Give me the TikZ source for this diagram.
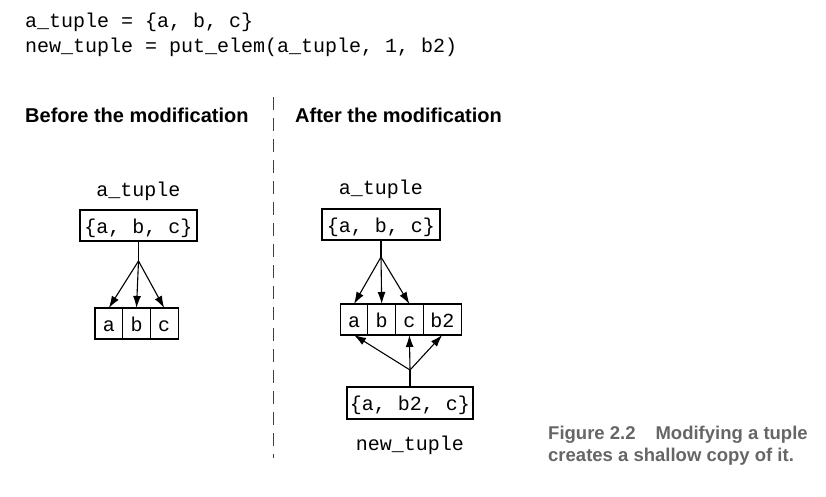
\documentclass[tikz,border=0pt]{standalone}
\usepackage{fontspec}
\setmainfont{Liberation Sans}
\setsansfont{Liberation Sans}
\setmonofont{Liberation Mono}
\usetikzlibrary{arrows.meta}
\begin{document}
\begin{tikzpicture}[x=1pt,y=1pt,
  code/.style={font=\ttfamily\fontsize{20}{25}\selectfont, inner sep=0pt, anchor=base west},
  lbl/.style={font=\ttfamily\fontsize{20}{25}\selectfont, inner sep=0pt, anchor=base},
  head/.style={font=\sffamily\bfseries\fontsize{20}{24}\selectfont, inner sep=0pt, anchor=base west},
  tbox/.style={draw, line width=1.1pt, font=\ttfamily\fontsize{20}{25}\selectfont,
    inner sep=0pt, outer sep=0pt, minimum height=31pt, text height=17pt, text depth=2pt},
  cell/.style={tbox, minimum width=27.7pt},
  link/.style={line width=1.1pt},
  arr/.style={line width=1.1pt, -{Latex[length=12pt,width=8pt]}},
  divider/.style={line width=1pt, black!75, dash pattern=on 13pt off 8pt},
  captext/.style={font=\sffamily\bfseries\fontsize{18.5}{21}\selectfont, text=black!60, inner sep=0pt, anchor=base west}
]
\useasboundingbox (0,0) rectangle (826,-496);

% code lines
\node[code] (code1) at (25,-27) {a\_tuple = \{a, b, c\}};
\node[code] (code2) at (25,-52) {new\_tuple = put\_elem(a\_tuple, 1, b2)};

% headings
\node[head] (hbefore) at (25,-122) {Before the modification};
\node[head] (hafter) at (295,-122) {After the modification};

% divider
\coordinate (dtop) at (273,-97);
\coordinate (dbot) at (273,-458);
\draw[divider] (dtop) -- (dbot);

% ---- before ----
\node[lbl] (lname) at (138.5,-196) {a\_tuple};
\node[tbox, minimum width=117pt] (lbox) at (138.5,-225.5) {\{a, b, c\}};
\node[cell] (La) at (108.8,-323.5) {a};
\node[cell, anchor=west] (Lb) at (La.east) {b};
\node[cell, anchor=west] (Lc) at (Lb.east) {c};
\coordinate (J1) at (138.5,-261);
\draw[link] (lbox.south) -- (J1);
\draw[arr] (J1) -- (La.north);
\draw[arr] (J1) -- (Lb.north);
\draw[arr] (J1) -- (Lc.north);

% ---- after ----
\node[lbl] (rname) at (381,-194) {a\_tuple};
\node[tbox, minimum width=118pt] (rbox) at (381,-224.5) {\{a, b, c\}};
\node[cell] (Ra) at (354,-319.5) {a};
\node[cell, anchor=west] (Rb) at (Ra.east) {b};
\node[cell, anchor=west] (Rc) at (Rb.east) {c};
\node[tbox, anchor=west, minimum width=38pt] (Rb2) at (Rc.east) {b2};
\coordinate (J2) at (381,-257);
\draw[link] (rbox.south) -- (J2);
\draw[arr] (J2) -- (Ra.north);
\draw[arr] (J2) -- (Rb.north);
\draw[arr] (J2) -- (Rc.north);

\node[tbox, minimum width=126pt, minimum height=32pt] (nbox) at (410,-403) {\{a, b2, c\}};
\node[lbl] (nname) at (410,-450) {new\_tuple};
\coordinate (J3) at (410,-370);
\draw[link] (nbox.north) -- (J3);
\draw[arr] (J3) -- (Ra.south);
\draw[arr] (J3) -- (Rc.south);
\draw[arr] (J3) -- (Rb2.south);

% caption
\node[captext] (cap1) at (548,-439) {Figure 2.2\hspace{20pt}Modifying a tuple};
\node[captext] (cap2) at (548,-461) {creates a shallow copy of it.};
\end{tikzpicture}
\end{document}
